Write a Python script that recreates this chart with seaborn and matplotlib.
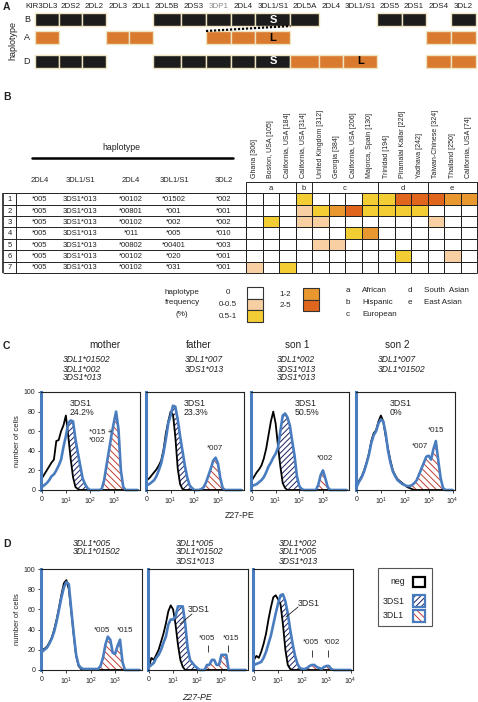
import numpy as np
import pandas as pd
import matplotlib
matplotlib.use("Agg")
import matplotlib.pyplot as plt
from matplotlib.colors import ListedColormap
from matplotlib.patches import Rectangle
from itertools import groupby
import seaborn as sns

sns.set_style("white")
plt.rcParams["font.family"] = ["Liberation Sans", "DejaVu Sans"]
plt.rcParams["mathtext.fontset"] = "custom"
plt.rcParams["mathtext.rm"] = "Liberation Sans"
plt.rcParams["mathtext.it"] = "Liberation Sans:italic"
plt.rcParams["hatch.linewidth"] = 0.7

# ---------------- DATA ----------------
# Panel A : haplotype gene maps
A_GENES = ["KIR3DL3", "2DS2", "2DL2", "2DL3", "2DL1", "2DL5B", "2DS3", "3DP1", "2DL4",
           "3DL1/S1", "2DL5A", "2DL4", "3DL1/S1", "2DS5", "2DS1", "2DS4", "3DL2"]
A_HAPLOTYPES = ["B", "A", "D"]
A_PRESENCE = {"B": "KKK..KKKKKK..KK.K",
              "A": "O..OO..OOO.....OO",
              "D": "KKK..KKKKKOOO..OO"}
A_ALLELE = {("B", 9): "S", ("A", 9): "L", ("D", 9): "S", ("D", 12): "L"}

# Panel B : haplotype table + frequency heat map
B_HEADERS = ["2DL4", "3DL1/S1", "2DL4", "3DL1/S1", "3DL2"]
B_ALLELES = [["*005", "3DS1*013", "*00102", "*01502", "*002"],
             ["*005", "3DS1*013", "*00801", "*001", "*001"],
             ["*005", "3DS1*013", "*00102", "*002", "*002"],
             ["*005", "3DS1*013", "*011", "*005", "*010"],
             ["*005", "3DS1*013", "*00802", "*00401", "*003"],
             ["*005", "3DS1*013", "*00102", "*020", "*001"],
             ["*005", "3DS1*013", "*00102", "*031", "*001"]]
POPULATIONS = ["Ghana [306]", "Boston, USA [105]", "California, USA [184]",
               "California, USA [314]", "United Kingdom [312]", "Georgia [384]",
               "California, USA [206]", "Majorca, Spain [130]", "Trinidad [194]",
               "Piramalai Kallar [226]", "Yadhava [242]", "Taiwan-Chinese [324]",
               "Thailand [250]", "California, USA [74]"]
POP_GROUP = ["a", "a", "a", "b", "c", "c", "c", "c", "d", "d", "d", "e", "e", "e"]
GROUP_NAMES = {"a": "African", "b": "Hispanic", "c": "European",
               "d": "South  Asian", "e": "East Asian"}
FREQ_BINS = ["0", "0-0.5", "0.5-1", "1-2", "2-5"]
FREQ_CODE = [[0, 0, 0, 2, 0, 0, 0, 2, 2, 4, 4, 4, 3, 3],
             [0, 0, 0, 1, 2, 3, 4, 2, 2, 2, 2, 0, 0, 0],
             [0, 2, 0, 1, 1, 0, 0, 0, 0, 0, 0, 1, 0, 0],
             [0, 0, 0, 0, 0, 0, 2, 3, 0, 0, 0, 0, 0, 0],
             [0, 0, 0, 0, 1, 1, 0, 0, 0, 0, 0, 0, 0, 0],
             [0, 0, 0, 0, 0, 0, 0, 0, 0, 2, 0, 0, 1, 0],
             [1, 0, 2, 0, 0, 0, 0, 0, 0, 0, 0, 0, 0, 0]]

# Panels C/D : flow histograms (x in log10 decades of Z27-PE, 0 shown as "0")
DECADES = [0.0, 0.1, 0.2, 0.3, 0.4, 0.5, 0.6, 0.7, 0.8, 0.9,
           1.0, 1.1, 1.2, 1.3, 1.4, 1.5, 1.6, 1.7, 1.8, 1.9,
           2.0, 2.1, 2.2, 2.3, 2.4, 2.5, 2.6, 2.7, 2.8, 2.9,
           3.0, 3.1, 3.2, 3.3, 3.4, 3.5, 3.6, 3.7, 3.8, 3.9,
           4.0]

C_DONORS = ["mother", "father", "son 1", "son 2"]
C_GENOTYPES = [["3DL1*01502", "3DL1*002", "3DS1*013"],
               ["3DL1*007", "3DS1*013"],
               ["3DL1*002", "3DS1*013", "3DS1*013"],
               ["3DL1*007", "3DL1*01502"]]
C_PERCENT = ["24.2%", "23.3%", "50.5%", "0%"]
C_NEG = [
    [12, 16, 20, 24, 28, 31, 50, 51, 60, 66,
     76, 55, 32, 13, 3, 1, 0, 0, 0, 0,
     0, 0, 0, 0, 0, 0, 0, 0, 0, 0,
     0, 0, 0, 0, 0, 0, 0, 0, 0, 0,
     0],
    [10, 12, 15, 18, 21, 25, 30, 41, 58, 70,
     80, 77, 54, 22, 6, 1, 0, 0, 0, 0,
     0, 0, 0, 0, 0, 0, 0, 0, 0, 0,
     0, 0, 0, 0, 0, 0, 0, 0, 0, 0,
     0],
    [10, 14, 18, 21, 25, 32, 42, 56, 70, 80,
     68, 45, 24, 7, 2, 0, 0, 0, 0, 0,
     0, 0, 0, 0, 0, 0, 0, 0, 0, 0,
     0, 0, 0, 0, 0, 0, 0, 0, 0, 0,
     0],
    [5, 10, 14, 20, 28, 37, 50, 58, 61, 70,
     76, 70, 55, 42, 30, 20, 15, 11, 9, 7,
     5, 3, 2, 1, 0, 0, 0, 0, 0, 0,
     0, 0, 0, 0, 0, 0, 0, 0, 0, 0,
     0]]
C_STAIN = [
    [3, 5, 7, 10, 14, 16, 20, 25, 31, 44,
     55, 68, 71, 70, 52, 38, 25, 12, 6, 2,
     0, 0, 0, 0, 0, 1, 10, 25, 40, 55,
     68, 80, 62, 20, 3, 0, 0, 0, 0, 0,
     0],
    [5, 6, 8, 10, 14, 20, 27, 38, 52, 68,
     76, 86, 85, 72, 55, 40, 25, 13, 5, 2,
     0, 0, 0, 1, 3, 8, 15, 22, 30, 33,
     27, 12, 2, 0, 0, 0, 0, 0, 0, 0,
     0],
    [4, 5, 6, 8, 10, 13, 18, 24, 28, 33,
     37, 43, 60, 76, 78, 74, 66, 50, 35, 14,
     4, 1, 0, 0, 0, 0, 0, 0, 5, 15,
     20, 12, 3, 0, 0, 0, 0, 0, 0, 0,
     0],
    [4, 9, 13, 19, 27, 36, 48, 56, 60, 68,
     72, 70, 58, 40, 28, 19, 14, 10, 8, 6,
     5, 4, 4, 5, 7, 10, 16, 22, 28, 34,
     35, 31, 42, 50, 30, 12, 2, 0, 0, 0,
     0]]
C_PEAK_LABELS = [["*015 +", "*002"], ["*007"], ["*002"], ["*015", "*007"]]

D_GENOTYPES = [["3DL1*005", "3DL1*01502"],
               ["3DL1*005", "3DL1*01502", "3DS1*013"],
               ["3DL1*002", "3DL1*005", "3DS1*013"]]
D_NEG = [
    [20, 21, 23, 27, 32, 40, 50, 62, 75, 86,
     89, 80, 58, 35, 14, 4, 1, 0, 0, 0,
     0, 0, 0, 0, 0, 0, 0, 0, 0, 0,
     0, 0, 0, 0, 0, 0, 0, 0, 0, 0,
     0],
    [3, 12, 10, 15, 20, 28, 36, 46, 58, 64,
     60, 45, 25, 10, 3, 0, 0, 0, 0, 0,
     0, 0, 0, 0, 0, 0, 0, 0, 0, 0,
     0, 0, 0, 0, 0, 0, 0, 0, 0, 0,
     0],
    [10, 14, 12, 18, 26, 36, 50, 62, 72, 74,
     70, 65, 45, 20, 5, 1, 0, 0, 0, 0,
     0, 0, 0, 0, 0, 0, 0, 0, 0, 0,
     0, 0, 0, 0, 0, 0, 0, 0, 0, 0,
     0]]
D_STAIN = [
    [18, 20, 22, 26, 31, 38, 48, 60, 72, 82,
     87, 85, 60, 36, 15, 5, 2, 1, 1, 1,
     1, 1, 1, 1, 4, 12, 25, 33, 30, 17,
     16, 24, 30, 8, 0, 0, 0, 0, 0, 0,
     0],
    [3, 5, 7, 12, 15, 20, 27, 33, 45, 50,
     50, 53, 63, 63, 63, 46, 22, 10, 7, 4,
     2, 0, 0, 0, 5, 5, 10, 10, 5, 5,
     15, 15, 15, 0, 0, 0, 0, 0, 0, 0,
     0],
    [5, 6, 7, 8, 12, 18, 26, 34, 45, 56,
     66, 74, 75, 68, 56, 40, 26, 14, 6, 2,
     1, 1, 2, 4, 5, 5, 3, 2, 1, 3,
     4, 4, 1, 0, 0, 0, 0, 0, 0, 0,
     0]]
LEGEND_LABELS = ["neg", "3DS1", "3DL1"]

# ---------------- STYLE / LAYOUT ----------------
W, H = 478, 702
BLACKBOX, ORANGEBOX = "#1c1c1c", "#d97a2e"
FREQ_COLORS = ["#ffffff", "#f7cfa2", "#f3cd34", "#e8982e", "#e0651d"]
BLUE, NAVY, RED = "#4a7dbf", "#1c2060", "#c23b30"
SPLIT = 2.1          # boundary between 3DS1 (dim) and 3DL1 (bright) populations
HATCH_DS1, HATCH_DL1 = "//////", "\\\\\\\\\\"

fig = plt.figure(figsize=(W / 100, H / 100), dpi=100)


def ax_px(x0, y0, x1, y1, **kw):
    return fig.add_axes([x0 / W, 1 - y1 / H, (x1 - x0) / W, (y1 - y0) / H], **kw)


# ---------------- PANEL A ----------------
A_EDGES = np.array([35, 59, 82.5, 106, 129.5, 153, 181, 206, 231.5, 255.5,
                    290.5, 319.5, 343, 377.5, 402, 426, 451, 476])
A_ROW_Y = {"B": 19.5, "A": 37.5, "D": 61}
A_ROW_H = 13
axA = ax_px(0, 0, W, 75)
axA.set_xlim(0, W)
axA.set_ylim(75, 0)
axA.axis("off")
lefts, widths = A_EDGES[:-1], np.diff(A_EDGES)
cmapA = {"K": BLACKBOX, "O": ORANGEBOX}
for hap in A_HAPLOTYPES:
    pres = A_PRESENCE[hap]
    idx = [i for i, c in enumerate(pres) if c != "."]
    axA.barh([A_ROW_Y[hap]] * len(idx), widths[idx], left=lefts[idx], height=A_ROW_H,
             color=[cmapA[pres[i]] for i in idx], edgecolor="#efe4c0", linewidth=1.0)
    axA.text(27, A_ROW_Y[hap], hap, ha="center", va="center", fontsize=6.5, color="#222")
for (hap, i), allele in A_ALLELE.items():
    axA.text((A_EDGES[i] + A_EDGES[i + 1]) / 2, A_ROW_Y[hap] + 0.5, allele,
             ha="center", va="center", fontsize=8, fontweight="bold",
             color="white" if A_PRESENCE[hap][i] == "K" else "black",
             family=["Liberation Sans Narrow", "Liberation Sans"])
for i, g in enumerate(A_GENES):
    cx = (A_EDGES[i] + A_EDGES[i + 1]) / 2
    if i == 0:
        axA.text(A_EDGES[1] - 1.5, 7, g, ha="right", va="center", fontsize=5.8, color="#222")
    else:
        axA.text(cx, 7, g, ha="center", va="center", fontsize=5.8,
                 color="#8a8a8a" if g == "3DP1" else "#222")
axA.plot([A_EDGES[7], A_EDGES[10]], [A_ROW_Y["A"] - A_ROW_H / 2, A_ROW_Y["B"] + A_ROW_H / 2],
         color="black", lw=1.6, ls=(0, (1, 0.8)))
axA.text(13, 40, "haplotype", rotation=90, ha="center", va="center", fontsize=6.5, color="#222")

# ---------------- PANEL B ----------------
axL = ax_px(3, 182, 246, 273)
axL.set_xlim(3, 246)
axL.set_ylim(7, -1)
axL.axis("off")
B_COL_X = [40, 80, 131, 174, 224]
for r, row in enumerate(B_ALLELES):
    axL.text(9.5, r + 0.55, str(r + 1), ha="center", va="center", fontsize=5.5, color="#222")
    for x, s in zip(B_COL_X, row):
        axL.text(x, r + 0.55, s, ha="center", va="center", fontsize=5.5, color="#222")
axL.hlines(range(0, 8), 3, 246, color="#222", lw=0.7, clip_on=False)
axL.vlines([3], 0, 7, color="#222", lw=1.2, clip_on=False)
axL.vlines([16], 0, 7, color="#222", lw=0.7, clip_on=False)

axH = ax_px(246, 182, 477, 273)
freq_df = pd.DataFrame(FREQ_CODE, columns=POPULATIONS, index=range(1, 8))
sns.heatmap(freq_df, ax=axH, cmap=ListedColormap(FREQ_COLORS), vmin=-0.5, vmax=4.5,
            cbar=False, linewidths=0.6, linecolor="#222", yticklabels=False,
            xticklabels=POPULATIONS)
axH.set_ylim(7, -1)
axH.xaxis.set_ticks_position("top")
axH.set_xticklabels(POPULATIONS, rotation=90, fontsize=5, color="#222")
axH.tick_params(axis="x", length=0, pad=3, labelbottom=False, labeltop=True)
axH.set_xlabel("")
axH.set_ylabel("")
start = 0
bounds = [0]
for g, items in groupby(POP_GROUP):
    n = len(list(items))
    axH.text(start + n / 2, -0.45, g, ha="center", va="center", fontsize=5.5, color="#222")
    start += n
    bounds.append(start)
axH.vlines(bounds, -1, 0, color="#222", lw=0.7, clip_on=False)
axH.vlines([0, len(POPULATIONS)], -1, 7, color="#222", lw=0.7, clip_on=False)
axH.hlines([-1, 7], 0, len(POPULATIONS), color="#222", lw=0.7, clip_on=False)

# ---------------- overlay for free text ----------------
ov = fig.add_axes([0, 0, 1, 1], zorder=10)
ov.set_xlim(0, W)
ov.set_ylim(H, 0)
ov.axis("off")


def T(x, y, s, size=6, **kw):
    kw.setdefault("ha", "center")
    kw.setdefault("va", "center")
    kw.setdefault("color", "#222")
    ov.text(x, y, s, fontsize=size, **kw)


for x, y, s in [(3, 7, "A"), (3, 97, "B"), (3, 346, "C"), (3, 544, "D")]:
    T(x, y, s, size=7.5, fontweight="bold", ha="left")

T(121, 148, "haplotype", size=6.3)
ov.plot([32, 233], [158, 158], color="black", lw=1.8)
for x, s in zip(B_COL_X, B_HEADERS):
    T(x, 180, s, size=5.5)

# frequency legend
T(182, 293, "haplotype", size=5.8)
T(182, 303, "frequency", size=5.8)
T(182, 314, "(%)", size=5.8)
for i, (lab, col) in enumerate(zip(FREQ_BINS, FREQ_COLORS)):
    if i < 3:
        x0, y0, x_lab = 247, 287 + 11.7 * i, 228
    else:
        x0, y0, x_lab = 303, 288 + 11.7 * (i - 3), 285
    ov.add_patch(Rectangle((x0, y0), 16.5, 11.7, facecolor=col, edgecolor="#333", lw=0.8))
    T(x_lab, y0 + 6, lab, size=5.8)
for j, (g, name) in enumerate(GROUP_NAMES.items()):
    col, row = divmod(j, 3)
    gx = 348 + 62 * col
    gy = 291 + 11.5 * row
    T(gx, gy, g, size=5.8)
    T(gx + 14, gy, name, size=5.8, ha="left")


# ---------------- PANELS C / D ----------------
def hist_panel(ax, neg, stain, has_ds1, first, last):
    x = np.array(DECADES)
    neg = np.array(neg, dtype=float)
    st = np.array(stain, dtype=float)
    if has_ds1:
        ax.fill_between(x, neg, st, where=(x <= SPLIT) & (st >= neg), interpolate=True,
                        facecolor="white", edgecolor=NAVY, hatch=HATCH_DS1, lw=0)
    ax.fill_between(x, neg, st, where=(x >= SPLIT) & (st >= neg), interpolate=True,
                    facecolor="white", edgecolor=RED, hatch=HATCH_DL1, lw=0)
    sns.lineplot(x=x, y=neg, ax=ax, color="black", linewidth=1.3)
    sns.lineplot(x=x, y=st, ax=ax, color=BLUE, linewidth=1.9)
    for ln in ax.lines:
        ln.set_clip_on(False)
    ax.set_xlim(-0.04, 4.1)
    ax.set_ylim(0, 100)
    ticks = [0, 1, 2, 3, 4] if last else [0, 1, 2, 3]
    ax.set_xticks(ticks)
    ax.set_xticklabels(["0", "10$^1$", "10$^2$", "10$^3$", "10$^4$"][:len(ticks)])
    ax.set_yticks([0, 20, 40, 60, 80, 100])
    ax.tick_params(axis="both", direction="out", length=2.5, width=0.6, labelsize=5,
                   pad=1.5, colors="#222")
    ax.tick_params(axis="y", left=first, labelleft=first)
    ax.tick_params(axis="x", bottom=True)
    for s in ["top", "right", "bottom"]:
        ax.spines[s].set_color("#222")
        ax.spines[s].set_linewidth(0.8)
    ax.spines["left"].set_color(BLUE)
    ax.spines["left"].set_linewidth(2.2)
    ax.set_xlabel("")
    if first:
        ax.set_ylabel("number of cells", fontsize=5.5, labelpad=2, color="#222")
    else:
        ax.set_ylabel("")


C_AX_X = [(41, 140), (146, 244), (251, 349), (356, 455)]
C_TITLE_X = [105, 199, 297, 397]
C_GENO_X = [63, 185, 277, 378]
C_PCT_X = [70, 184, 295, 390]
for k in range(4):
    ax = ax_px(C_AX_X[k][0], 392, C_AX_X[k][1], 490)
    has_ds1 = any(g.startswith("3DS1") for g in C_GENOTYPES[k])
    hist_panel(ax, C_NEG[k], C_STAIN[k], has_ds1, k == 0, k == 3)
    T(C_TITLE_X[k], 345, C_DONORS[k], size=7.2)
    for j, g in enumerate(C_GENOTYPES[k]):
        T(C_GENO_X[k], 360 + 9 * j, g, size=6.2, ha="left", style="italic")
    T(C_PCT_X[k], 403, "3DS1", size=6.3, ha="left")
    T(C_PCT_X[k], 412.5, C_PERCENT[k], size=6.3, ha="left")
T(89, 432, C_PEAK_LABELS[0][0], size=5.8, ha="left")
T(89, 441, C_PEAK_LABELS[0][1], size=5.8, ha="left")
T(215, 448, C_PEAK_LABELS[1][0], size=5.8)
T(325, 459, C_PEAK_LABELS[2][0], size=5.8)
T(436, 430, C_PEAK_LABELS[3][0], size=5.8)
T(420, 447, C_PEAK_LABELS[3][1], size=5.8)
T(240, 516, "Z27-PE", size=6.3)

D_AX_X = [(41, 142), (148, 248), (253, 353)]
D_GENO_X = [73, 176, 279]
for k in range(3):
    ax = ax_px(D_AX_X[k][0], 569, D_AX_X[k][1], 670)
    has_ds1 = any(g.startswith("3DS1") for g in D_GENOTYPES[k])
    hist_panel(ax, D_NEG[k], D_STAIN[k], has_ds1, k == 0, k == 2)
    for j, g in enumerate(D_GENOTYPES[k]):
        T(D_GENO_X[k], 543 + 9 * j, g, size=6.2, ha="left", style="italic")
T(102, 630, "*005", size=5.8)
T(125, 630, "*015", size=5.8)
T(199, 610, "3DS1", size=6.3)
ov.plot([192, 180], [614, 624], color="#222", lw=0.6)
T(207, 639, "*005", size=5.8)
T(231, 639, "*015", size=5.8)
ov.vlines([208, 228], 645, 652, color="#222", lw=0.6)
T(309, 603, "3DS1", size=6.3)
ov.plot([298, 286], [607, 617], color="#222", lw=0.6)
T(311, 643, "*005", size=5.8)
T(332, 643, "*002", size=5.8)
ov.vlines([312, 328], 650, 657, color="#222", lw=0.6)
T(197, 697, "Z27-PE", size=6.3, style="italic")

# legend for C/D
ov.add_patch(Rectangle((378, 568), 54, 58, fill=False, edgecolor="#555", lw=0.8))
leg_y = [582, 601, 616]
leg_x = [390, 383, 383]
for lab, y, lx in zip(LEGEND_LABELS, leg_y, leg_x):
    T(lx, y, lab, size=6.3, ha="left")
    if lab == "neg":
        ov.add_patch(Rectangle((413, y - 5), 12, 10, facecolor="white", edgecolor="black", lw=1.6))
    else:
        hc, hp = (NAVY, HATCH_DS1) if lab == "3DS1" else (RED, HATCH_DL1)
        ov.add_patch(Rectangle((413, y - 6), 12, 12, facecolor="white", edgecolor=hc,
                               hatch=hp, lw=0))
        ov.add_patch(Rectangle((413, y - 6), 12, 12, fill=False, edgecolor=BLUE, lw=1.6))

fig.savefig("out.png", dpi=100)
